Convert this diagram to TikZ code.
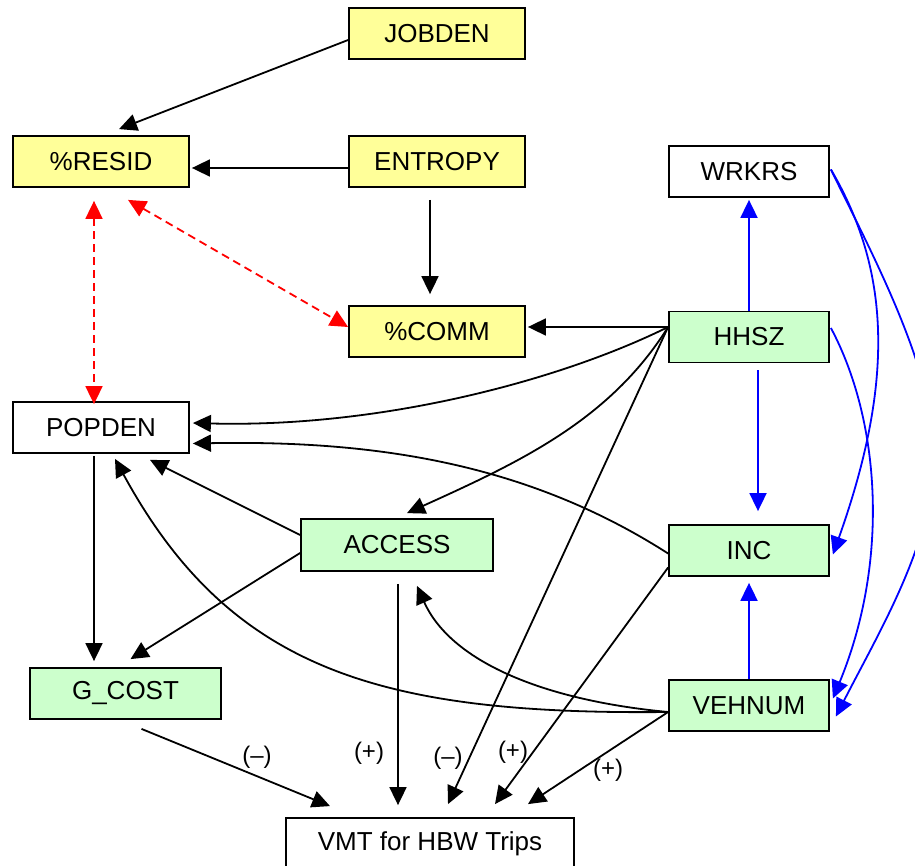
\documentclass[tikz,border=0pt]{standalone}
\usepackage{fontspec}
\setmainfont{Liberation Sans}
\usetikzlibrary{calc,arrows.meta}
\definecolor{ylw}{RGB}{255,255,153}
\definecolor{grn}{RGB}{204,255,204}
\begin{document}
\begin{tikzpicture}[x=1pt,y=-1pt,
  every node/.style={font=\fontsize{26}{30}\selectfont},
  box/.style={draw=black,line width=1.8pt,inner sep=0pt,minimum height=51pt,anchor=center},
  ybox/.style={box,fill=ylw},
  gbox/.style={box,fill=grn},
  wbox/.style={box,fill=white},
  tip/.style={-{Triangle[length=18pt,width=17pt]}},
  blk/.style={tip,draw=black,line width=1.8pt},
  blu/.style={tip,draw=blue,line width=1.8pt},
  rdd/.style={{Triangle[length=18pt,width=17pt]}-{Triangle[length=18pt,width=17pt]},draw=red,line width=1.8pt,dash pattern=on 8pt off 5pt},
  sgn/.style={font=\fontsize{24}{28}\selectfont,inner sep=0pt}]
\useasboundingbox (0,0) rectangle (915,866);
\fill[white] (0,0) rectangle (915,866);

% nodes
\node[ybox,minimum width=176pt] (jobden)  at (437,33.5)  {JOBDEN};
\node[ybox,minimum width=176pt] (resid)   at (101,161.5) {\%RESID};
\node[ybox,minimum width=176pt] (entropy) at (437,161.5) {ENTROPY};
\node[wbox,minimum width=160pt] (wrkrs)   at (749,171.5) {WRKRS};
\node[ybox,minimum width=176pt] (comm)    at (437,331.5) {\%COMM};
\node[gbox,minimum width=160pt] (hhsz)    at (749,337)   {HHSZ};
\node[wbox,minimum width=176pt] (popden)  at (101,427.5) {POPDEN};
\node[gbox,minimum width=192pt,minimum height=52pt] (access) at (397,545) {ACCESS};
\node[gbox,minimum width=160pt] (inc)     at (749,550.5) {INC};
\node[gbox,minimum width=191pt] (gcost)   at (125.5,693.5) {G\_COST};
\node[gbox,minimum width=160pt] (vehnum)  at (749,705.5) {VEHNUM};
\node[wbox,minimum width=288pt] (vmt)     at (430,843.5) {VMT for HBW Trips};

% black connectors
\draw[blk] ($(jobden.west)+(0,6.5)$) -- ($(resid.north)+(18,-6)$);
\draw[blk] ($(entropy.west)+(0,6.5)$) -- ($(resid.east)+(2,6.5)$);
\draw[blk] ($(entropy.south)+(-7,12)$) -- ($(comm.north)+(-7,-11)$);
\draw[blk] ($(hhsz.west)+(0,-10)$) -- ($(comm.east)+(2,-4.5)$);
\draw[blk] ($(hhsz.west)+(0,-10)$) .. controls (559,381) and (380,428) .. ($(popden.east)+(3,-4.5)$);
\draw[blk] ($(hhsz.west)+(0,-10)$) .. controls (610,420) and (520,462) .. ($(access.north)+(10,-5)$);
\draw[blk] ($(hhsz.west)+(0,-10)$) -- ($(vmt.north)+(18,-13)$);
\draw[blk] ($(inc.west)+(0,3)$) .. controls (530,465) and (380,440) .. ($(popden.east)+(3,16)$);
\draw[blk] ($(inc.west)+(0,17)$) -- ($(vmt.north)+(65,-13)$);
\draw[blk] ($(access.west)+(0,-10)$) -- ($(popden.south)+(49,6)$);
\draw[blk] ($(access.west)+(0,8)$) -- ($(gcost.north)+(5,-8)$);
\draw[blk] ($(access.south)+(1,12)$) -- ($(vmt.north)+(-32,-12)$);
\draw[blk] ($(vehnum.west)+(0,6.5)$) .. controls (540,700) and (450,660) .. ($(access.south)+(20,14)$);
\draw[blk] ($(vehnum.west)+(0,6.5)$) .. controls (380,715) and (230,670) .. ($(popden.south)+(14,5)$);
\draw[blk] ($(vehnum.west)+(0,6.5)$) -- ($(vmt.north)+(98,-13)$);
\draw[blk] ($(popden.south)+(-7,2)$) -- ($(gcost.north)+(-31.5,-6)$);
\draw[blk] ($(gcost.south)+(16,9)$) -- ($(vmt.north)+(-100,-11)$);

% red dashed double arrows
\draw[rdd] ($(resid.south)+(-7,13)$) -- ($(popden.north)+(-7,3)$);
\draw[rdd] ($(resid.south)+(27,12)$) -- ($(comm.west)+(0,-4.5)$);

% blue connectors
\draw[blu] (hhsz.north) -- ($(wrkrs.south)+(0,2)$);
\draw[blu] ($(hhsz.south)+(9,7)$) -- ($(inc.north)+(9,-13)$);
\draw[blu] (vehnum.north) -- ($(inc.south)+(0,6)$);
\draw[blu] ($(wrkrs.east)+(1,-2)$) .. controls (890,270) and (895,380) .. ($(inc.east)+(3,4)$);
\draw[blu] ($(hhsz.east)+(1,-9)$) .. controls (880,420) and (890,560) .. ($(vehnum.east)+(3,-7)$);
\draw[blu] ($(wrkrs.east)+(1,-2)$) .. controls (870,250) and (930,360) .. (935,450)
  .. controls (935,540) and (880,630) .. ($(vehnum.east)+(6,11)$);

% sign labels
\node[sgn] (s1) at (257,757) {(–)};
\node[sgn] (s2) at (369,753) {(+)};
\node[sgn] (s3) at (448,758) {(–)};
\node[sgn] (s4) at (513,752) {(+)};
\node[sgn] (s5) at (608,770) {(+)};
\end{tikzpicture}
\end{document}
